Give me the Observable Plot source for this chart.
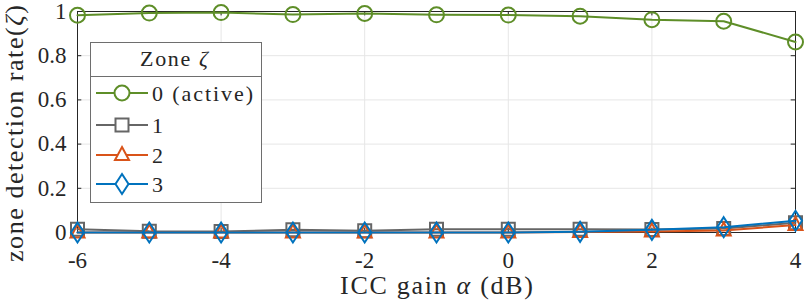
<!DOCTYPE html>
<html><head><meta charset="utf-8">
<script src="https://cdn.jsdelivr.net/npm/d3@7"></script>
<script src="https://cdn.jsdelivr.net/npm/@observablehq/plot@0.6"></script>
<style>
html,body{margin:0;padding:0;background:#fff;}
#chart{position:relative;width:806px;height:304px;}
#chart svg, #chart svg text, #chart svg tspan { font-family: "Liberation Serif", "Times New Roman", serif !important; }
</style></head><body><div id="chart"></div>
<script>
const gains = [-6,-5,-4,-3,-2,-1,0,1,2,3,4];
const zone0 = [0.983,0.993,0.995,0.986,0.991,0.985,0.984,0.979,0.963,0.956,0.862];
const zone1 = [0.015,0.006,0.005,0.012,0.008,0.015,0.015,0.015,0.014,0.018,0.044];
const zone2 = [0.000,0.000,0.000,0.000,0.000,0.000,0.000,0.002,0.005,0.009,0.034];
const zone3 = [0.000,0.000,0.000,0.000,0.000,0.000,0.000,0.003,0.012,0.024,0.053];
const seriesNames = ["0 (active)","1","2","3"];
const colors = ["#5e8e28","#666666","#d95319","#0072bd"];
const xTicks = [-6,-4,-2,0,2,4];
const yTicks = [0,0.2,0.4,0.6,0.8,1];
const yTickLabels = ["0","0.2","0.4","0.6","0.8","1"];

const FONT = "Liberation Serif, Times New Roman, serif";
const INK = "#262626";
const symCircle = {draw(c){ c.moveTo(7.5,0); c.arc(0,0,7.5,0,2*Math.PI); }};
const symSquare = {draw(c){ c.rect(-6.5,-6.5,13,13); }};
const symTri = {draw(c){ c.moveTo(0,-8); c.lineTo(7,5); c.lineTo(-7,5); c.closePath(); }};
const symDiamond = {draw(c){ c.moveTo(0,-10); c.lineTo(6.5,0); c.lineTo(0,10); c.lineTo(-6.5,0); c.closePath(); }};
const symbols = [symCircle, symSquare, symTri, symDiamond];
const allSeries = [zone0, zone1, zone2, zone3];

const data = [];
allSeries.forEach((s,i)=> s.forEach((v,j)=> data.push({x:gains[j], y:v, k:i})));

const marks = [
  Plot.ruleX(xTicks, {x:d=>d, stroke:"#e6e6e6", strokeWidth:1}),
  Plot.ruleY(yTicks, {y:d=>d, stroke:"#e6e6e6", strokeWidth:1}),
  Plot.frame({stroke:INK, strokeWidth:1}),
  Plot.ruleX(xTicks, {x:d=>d, y1:0, y2:0.02, stroke:INK}),
  Plot.ruleX(xTicks, {x:d=>d, y1:0.98, y2:1, stroke:INK}),
  Plot.ruleY(yTicks, {y:d=>d, x1:-6, x2:-5.94, stroke:INK}),
  Plot.ruleY(yTicks, {y:d=>d, x1:3.94, x2:4, stroke:INK}),
  Plot.text(xTicks, {x:d=>d, y:0, dy:28, text:d=>String(d), fontSize:23, fill:INK}),
  Plot.text(yTicks, {x:-6, y:d=>d, dx:-11, text:(d,i)=>yTickLabels[i], textAnchor:"end", fontSize:23, fill:INK}),
];
[1,2,3,0].forEach(i=>{
  const d = data.filter(e=>e.k===i);
  marks.push(Plot.line(d,{x:"x",y:"y",stroke:colors[i],strokeWidth:2}));
  marks.push(Plot.dot(d,{x:"x",y:"y",stroke:colors[i],strokeWidth:2,fill:"none",symbol:()=>symbols[i],r:7}));
});

const plot = Plot.plot({
  width:806, height:304,
  marginLeft:77, marginRight:11, marginTop:11, marginBottom:72,
  x:{domain:[-6,4], axis:null},
  y:{domain:[0,1], axis:null},
  style:{background:"#fff", overflow:"visible"},
  marks
});
document.getElementById("chart").appendChild(plot);

const svg = d3.select(plot);
function label(sel){ return sel.attr("fill",INK); }
label(svg.append("text")).attr("x",436.5).attr("y",294).attr("text-anchor","middle")
  .attr("font-size",26).attr("textLength",193).attr("lengthAdjust","spacing")
  .html('ICC gain <tspan font-style="italic">α</tspan> (dB)');
label(svg.append("text")).attr("transform","translate(23,133.5) rotate(-90)").attr("text-anchor","middle")
  .attr("font-size",26).attr("textLength",257).attr("lengthAdjust","spacing")
  .html('zone detection rate(<tspan font-style="italic">ζ</tspan>)');

// legend
const lg = svg.append("g");
lg.append("rect").attr("x",90.5).attr("y",42.5).attr("width",171).attr("height",160)
  .attr("fill","#fff").attr("stroke","#6e6e6e").attr("stroke-width",1);
lg.append("line").attr("x1",90.5).attr("x2",261.5).attr("y1",76.5).attr("y2",76.5).attr("stroke","#6e6e6e");
label(lg.append("text")).attr("x",174).attr("y",66).attr("text-anchor","middle")
  .attr("font-size",22).attr("textLength",68).attr("lengthAdjust","spacing")
  .html('Zone <tspan font-style="italic">ζ</tspan>');
const ys = [93,125,155,184];
seriesNames.forEach((n,i)=>{
  const g = lg.append("g");
  g.append("line").attr("x1",96).attr("x2",148).attr("y1",ys[i]).attr("y2",ys[i]).attr("stroke",colors[i]).attr("stroke-width",2);
  const p = d3.path(); symbols[i].draw(p);
  g.append("path").attr("d",p.toString()).attr("transform",`translate(122,${ys[i]})`).attr("fill","#fff").attr("stroke",colors[i]).attr("stroke-width",2);
  const t = label(g.append("text")).attr("x",152).attr("y",ys[i]+7.5).attr("text-anchor","start").attr("font-size",22).text(n);
  if (n.length > 3) t.attr("textLength",101).attr("lengthAdjust","spacing");
});
</script></body></html>
